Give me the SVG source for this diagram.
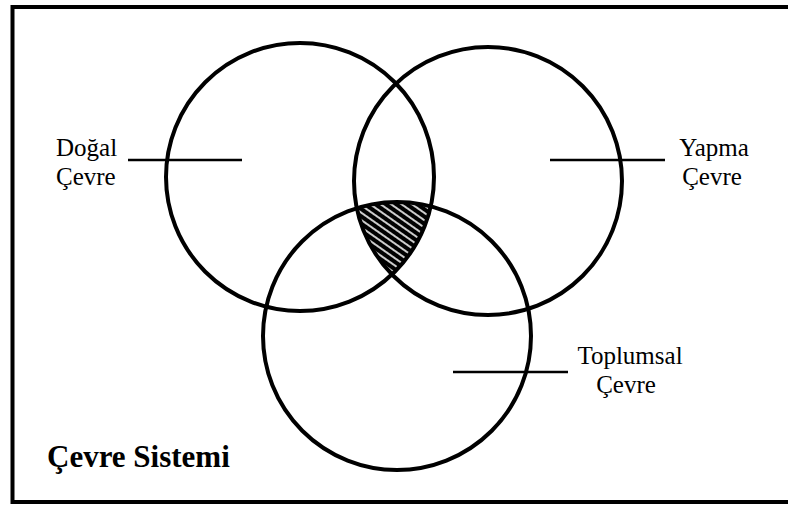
<svg xmlns="http://www.w3.org/2000/svg" width="788" height="505" viewBox="0 0 788 505">
<style>
.c{fill:none;stroke:#000;stroke-width:4}
.ln{stroke:#000;stroke-width:2.5}
.t{font-family:"Liberation Serif","Times New Roman",serif;font-size:25px;fill:#000}
.b{font-family:"Liberation Serif","Times New Roman",serif;font-size:31px;font-weight:bold;fill:#000}
</style>
<defs>
<pattern id="hatch" patternUnits="userSpaceOnUse" width="6" height="6" patternTransform="rotate(35)">
<rect width="6" height="6" fill="#000"/>
<line x1="0" y1="3" x2="6" y2="3" stroke="#fff" stroke-width="1.6"/>
</pattern>
<clipPath id="clipL"><circle cx="300" cy="177" r="134"/></clipPath>
<clipPath id="clipR"><circle cx="488" cy="181" r="134"/></clipPath>
</defs>
<rect x="12.5" y="7" width="800" height="495" fill="#fff" stroke="#000" stroke-width="4"/>
<g id="hatched" clip-path="url(#clipL)">
<g clip-path="url(#clipR)">
<circle cx="397" cy="336" r="134" fill="url(#hatch)"/>
</g>
</g>
<g id="dogal">
<circle class="c" cx="300" cy="177" r="134"/>
<text class="t" x="56" y="156">Doğal</text>
<text class="t" x="56" y="185">Çevre</text>
</g>
<g id="yapma">
<circle class="c" cx="488" cy="181" r="134"/>
<text class="t" x="714" y="156" text-anchor="middle">Yapma</text>
<text class="t" x="712" y="185" text-anchor="middle">Çevre</text>
</g>
<g id="toplumsal">
<circle class="c" cx="397" cy="336" r="134"/>
<text class="t" x="630" y="364" text-anchor="middle">Toplumsal</text>
<text class="t" x="626" y="393" text-anchor="middle">Çevre</text>
</g>
<g id="connectors">
<line class="ln" x1="128" y1="160" x2="242" y2="160"/>
<line class="ln" x1="550" y1="160" x2="665" y2="160"/>
<line class="ln" x1="453" y1="372" x2="568" y2="372"/>
</g>
<g id="title">
<text class="b" x="47" y="467">Çevre Sistemi</text>
</g>
</svg>
